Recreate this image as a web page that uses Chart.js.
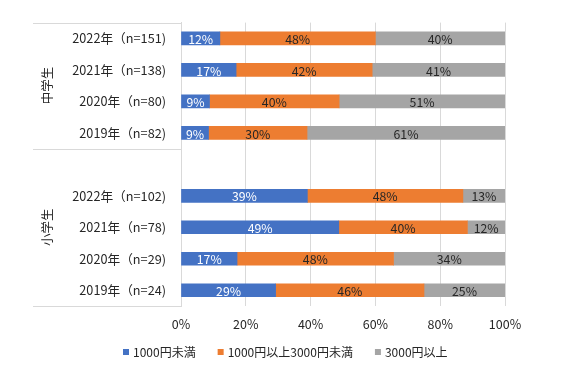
<!DOCTYPE html>
<html>
<head>
<meta charset="utf-8">
<script src="https://cdn.jsdelivr.net/npm/chart.js@4/dist/chart.umd.min.js"></script>
<style>
  html, body { margin: 0; padding: 0; background: #ffffff; }
  #wrap { width: 567px; height: 378px; position: relative; }
</style>
</head>
<body>
<div id="wrap"><canvas id="c" width="567" height="378"></canvas></div>
<script>
// ---- data ----
const categories = ['2022年（n=151)', '2021年（n=138)', '2020年（n=80)', '2019年（n=82)', '',
                    '2022年（n=102)', '2021年（n=78)', '2020年（n=29)', '2019年（n=24)'];
const groupNames = ['中学生', '小学生'];
const groupStart = [0, 4];
const groupEnd = [3, 8];
const seriesNames = ['1000円未満', '1000円以上3000円未満', '3000円以上'];
const under1000 = [12, 17, 8.8, 8.5, null, 39, 48.7, 17.3, 29.2];
const from1000to3000 = [48, 42, 40, 30.4, null, 48, 39.7, 48.3, 45.8];
const over3000 = [40, 41, 51.2, 61.1, null, 13, 11.6, 34.4, 25];
const xTicks = [0, 20, 40, 60, 80, 100];

const FONT = '"Noto Sans CJK JP", "Noto Sans", sans-serif';
const TEXT = '#262626';
const GRID = '#d9d9d9';
const colors = ['#4472C4', '#ED7D31', '#A5A5A5'];
const labelColors = ['#ffffff', '#262626', '#262626'];

const valueLabels = {
  id: 'valueLabels',
  afterDatasetsDraw(chart) {
    const ctx = chart.ctx;
    ctx.save();
    ctx.font = '12.3px ' + FONT;
    ctx.textAlign = 'center';
    ctx.textBaseline = 'middle';
    chart.data.datasets.forEach((ds, i) => {
      const meta = chart.getDatasetMeta(i);
      meta.data.forEach((bar, j) => {
        const v = ds.data[j];
        if (v == null) return;
        ctx.fillStyle = labelColors[i];
        ctx.fillText(Math.round(v) + '%', (bar.x + bar.base) / 2, bar.y + 1);
      });
    });
    ctx.restore();
  }
};

const groupAxis = {
  id: 'groupAxis',
  afterDraw(chart) {
    const ctx = chart.ctx;
    const ys = chart.scales.y;
    const area = chart.chartArea;
    const left = ys.left;
    ctx.save();
    ctx.strokeStyle = GRID;
    ctx.lineWidth = 1;
    const lines = [area.top];
    for (let g = 0; g < groupNames.length - 1; g++) {
      lines.push((ys.getPixelForValue(groupEnd[g]) + ys.getPixelForValue(groupStart[g + 1])) / 2);
    }
    lines.push(area.bottom);
    lines.forEach(y => {
      const yy = Math.round(y) + 0.5;
      ctx.beginPath();
      ctx.moveTo(left, yy);
      ctx.lineTo(area.left, yy);
      ctx.stroke();
    });
    ctx.fillStyle = TEXT;
    ctx.font = '12.5px ' + FONT;
    ctx.textAlign = 'center';
    ctx.textBaseline = 'middle';
    groupNames.forEach((name, g) => {
      const yc = (ys.getPixelForValue(groupStart[g]) + ys.getPixelForValue(groupEnd[g])) / 2;
      ctx.save();
      ctx.translate(left + 14, yc);
      ctx.rotate(-Math.PI / 2);
      ctx.fillText(name, 0, 0);
      ctx.restore();
    });
    ctx.restore();
  }
};

// bottom legend drawn from the dataset list
const bottomLegend = {
  id: 'bottomLegend',
  afterDraw(chart) {
    const ctx = chart.ctx;
    const box = 6, textGap = 4, itemGap = 22;
    ctx.save();
    ctx.font = '12px ' + FONT;
    ctx.textBaseline = 'middle';
    ctx.textAlign = 'left';
    const items = chart.data.datasets.map(ds => ({
      text: ds.label, color: ds.backgroundColor, w: ctx.measureText(ds.label).width
    }));
    const total = items.reduce((s, it) => s + box + textGap + it.w, 0) + itemGap * (items.length - 1);
    let x = Math.round(chart.width / 2 + 2 - total / 2);
    const y = 352;
    items.forEach(it => {
      ctx.fillStyle = it.color;
      ctx.fillRect(x, y - 3, box, box);
      ctx.fillStyle = TEXT;
      ctx.fillText(it.text, x + box + textGap, y);
      x += box + textGap + it.w + itemGap;
    });
    ctx.restore();
  }
};

new Chart(document.getElementById('c'), {
  type: 'bar',
  data: {
    labels: categories,
    datasets: [under1000, from1000to3000, over3000].map((d, i) => ({
      label: seriesNames[i],
      data: d,
      backgroundColor: colors[i],
      borderWidth: 0,
      barThickness: 13
    }))
  },
  options: {
    indexAxis: 'y',
    responsive: false,
    animation: false,
    devicePixelRatio: 1,
    layout: { padding: { left: 33, top: 22, right: 62, bottom: 35 } },
    plugins: {
      tooltip: { enabled: false },
      legend: { display: false }
    },
    scales: {
      x: {
        stacked: true,
        min: 0,
        max: 100,
        afterBuildTicks(scale) { scale.ticks = xTicks.map(v => ({ value: v })); },
        ticks: {
          color: TEXT,
          padding: 11,
          font: { family: FONT, size: 12.5 },
          callback: v => v + '%'
        },
        grid: { color: GRID, drawTicks: false },
        border: { display: false }
      },
      y: {
        stacked: true,
        afterFit(scale) { scale.width = 148; },
        ticks: {
          color: TEXT,
          padding: 15,
          font: { family: FONT, size: 12.7 }
        },
        grid: { display: false, drawTicks: false },
        border: { display: true, color: GRID }
      }
    }
  },
  plugins: [valueLabels, groupAxis, bottomLegend]
});
</script>
</body>
</html>
